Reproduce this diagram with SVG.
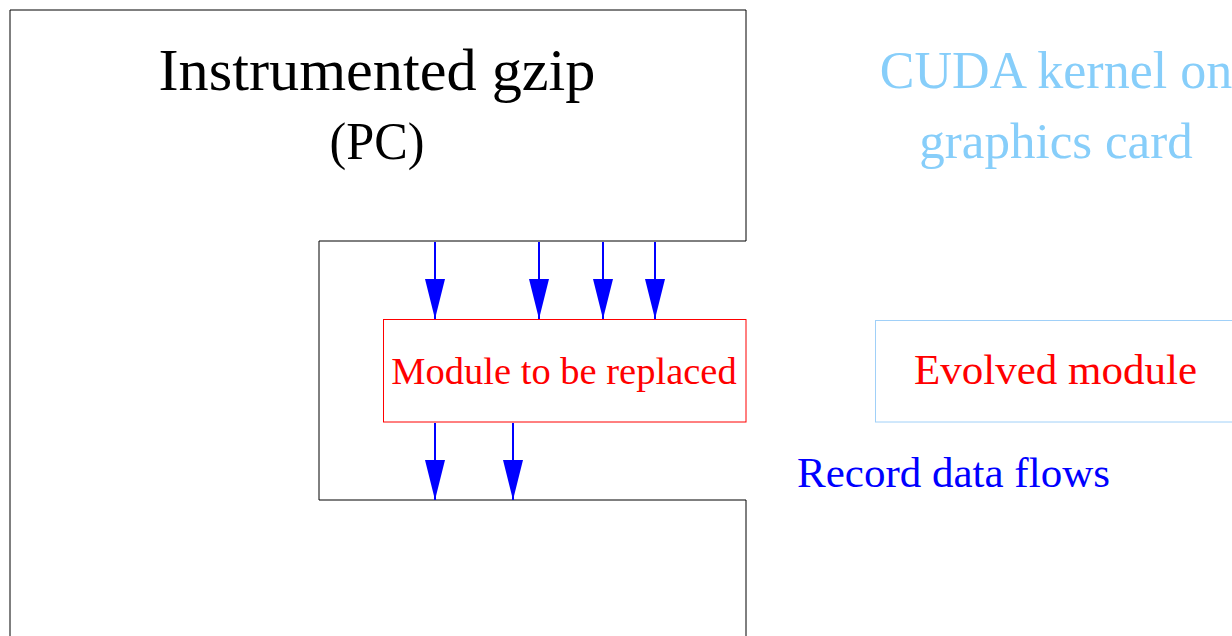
<svg xmlns="http://www.w3.org/2000/svg" width="1232" height="636" viewBox="0 0 1232 636">
<style>
text{font-family:"Liberation Serif","Times New Roman",serif;text-anchor:middle}
.flow{stroke:#0000ff;stroke-width:2;fill:none;marker-end:url(#ah)}
</style>
<defs>
<marker id="ah" markerUnits="userSpaceOnUse" markerWidth="40" markerHeight="20" refX="40" refY="10" orient="auto" viewBox="0 0 40 20">
<path d="M0,0 L40,10 L0,20 z" fill="#0000ff"/>
</marker>
</defs>
<rect width="1232" height="636" fill="#fff"/>
<g id="gzip">
<path d="M10,10 H746 V241 H319 V500 H746 V640 M10,10 V640" fill="none" stroke="#000" stroke-width="1"/>
<text x="377" y="90" font-size="60" textLength="437" lengthAdjust="spacingAndGlyphs">Instrumented gzip</text>
<text x="377" y="159" font-size="53" textLength="95" lengthAdjust="spacingAndGlyphs">(PC)</text>
</g>
<g id="cuda">
<text x="1056" y="88" font-size="52" fill="#87cefa">CUDA kernel on</text>
<text x="1056" y="158" font-size="51" fill="#87cefa">graphics card</text>
</g>
<g id="module">
<rect x="383.5" y="319.5" width="362.5" height="102.5" fill="none" stroke="#ff0000" stroke-width="1"/>
<text x="564" y="384" font-size="38.5" fill="#ff0000">Module to be replaced</text>
</g>
<g id="evolved">
<rect x="875.5" y="320.5" width="360" height="101.5" fill="none" stroke="#a0d0f8" stroke-width="1"/>
<text x="1055.5" y="384" font-size="43" fill="#ff0000">Evolved module</text>
</g>
<g id="record">
<text x="953.5" y="487" font-size="43" fill="#0000ff">Record data flows</text>
</g>
<g id="connectors">
<line class="flow" x1="435" y1="242" x2="435" y2="319"/>
<line class="flow" x1="539" y1="242" x2="539" y2="319"/>
<line class="flow" x1="603" y1="242" x2="603" y2="319"/>
<line class="flow" x1="655" y1="242" x2="655" y2="319"/>
<line class="flow" x1="435" y1="423" x2="435" y2="500"/>
<line class="flow" x1="513" y1="423" x2="513" y2="500"/>
</g>
</svg>
